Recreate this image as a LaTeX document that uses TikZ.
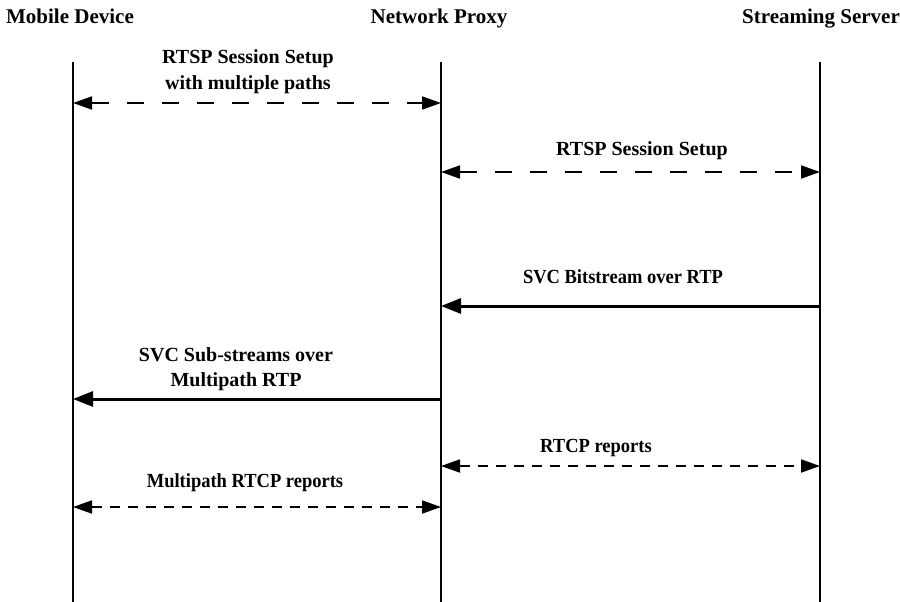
\documentclass[tikz,border=0pt]{standalone}
\usepackage{fontspec}
\setmainfont{Liberation Serif}
\newfontfamily\narrowserif[FakeStretch=0.925]{Liberation Serif}
\usetikzlibrary{arrows.meta}
\begin{document}
\begin{tikzpicture}[x=1pt,y=-1pt,
  head/.style={font=\fontsize{21}{23}\selectfont\bfseries, inner sep=0pt, anchor=base},
  msg/.style={font=\fontsize{20}{25}\selectfont\bfseries, inner sep=0pt, align=center, anchor=base},
  msgnarrow/.style={msg, font=\narrowserif\fontsize{20}{25}\selectfont\bfseries},
  lifeline/.style={line width=1.3pt},
  tip/.style={-{Triangle[length=20pt,width=15pt]}},
  bitip/.style={{Triangle[length=19pt,width=13pt]}-{Triangle[length=19pt,width=13pt]}},
  longdash/.style={line width=1.8pt, dash pattern=on 17pt off 18pt},
  shortdash/.style={line width=1.8pt, dash pattern=on 10pt off 8pt},
  solidmsg/.style={line width=3pt}]
\useasboundingbox (0,0) rectangle (900,602);

% participants
\node[head] (mdev) at (70,24) {Mobile Device};
\node[head] (nprox) at (439,24) {Network Proxy};
\node[head] (ssrv) at (821,24) {Streaming Server};

% lifelines
\coordinate (mdT) at (73,62);  \coordinate (mdB) at (73,602);
\coordinate (npT) at (441,62); \coordinate (npB) at (441,602);
\coordinate (ssT) at (820,62); \coordinate (ssB) at (820,602);
\draw[lifeline] (mdT) -- (mdB);
\draw[lifeline] (npT) -- (npB);
\draw[lifeline] (ssT) -- (ssB);

% message anchor points on the lifelines
\foreach \n/\y in {1/103,4/399,6/507} \coordinate (md\n) at (73,\y);
\foreach \n/\y in {1/103,2/172,3/306,4/399,5/466,6/507} \coordinate (np\n) at (441,\y);
\foreach \n/\y in {2/172,3/306,5/466} \coordinate (ss\n) at (820,\y);

% messages
\draw[bitip,longdash] (md1) -- (np1);
\node[msg] (m1) at (248,89) {RTSP Session Setup\\with multiple paths};

\draw[bitip,longdash] (np2) -- (ss2);
\node[msg] (m2) at (642,155) {RTSP Session Setup};

\draw[tip,solidmsg] (ss3) -- (np3);
\node[msgnarrow] (m3) at (623,283) {SVC Bitstream over RTP};

\draw[tip,solidmsg] (np4) -- (md4);
\node[msg] (m4) at (236,386) {SVC Sub-streams over\\Multipath RTP};

\draw[bitip,shortdash] (np5) -- (ss5);
\node[msgnarrow] (m5) at (596,452) {RTCP reports};

\draw[bitip,shortdash] (md6) -- (np6);
\node[msgnarrow] (m6) at (245,487) {Multipath RTCP reports};
\end{tikzpicture}
\end{document}
